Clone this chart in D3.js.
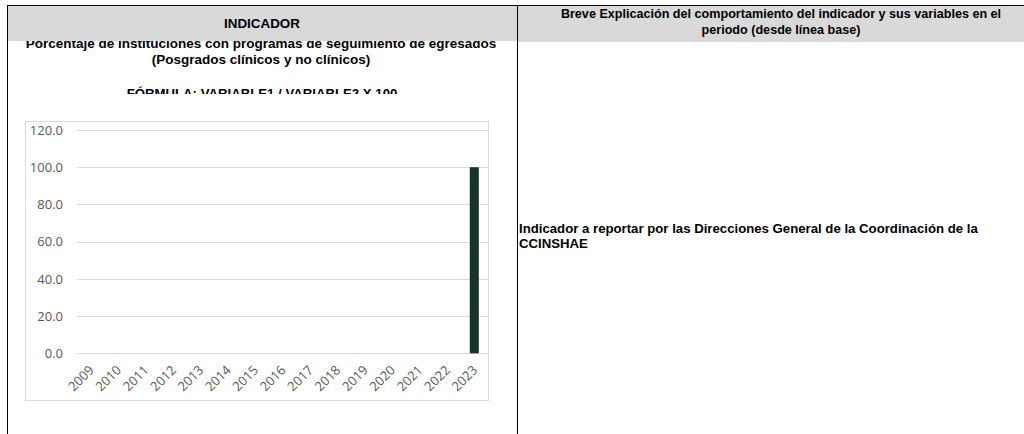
<!DOCTYPE html>
<html>
<head>
<meta charset="utf-8">
<script src="https://cdn.jsdelivr.net/npm/d3@7"></script>
<style>
  html, body { margin: 0; padding: 0; background: #fff; }
  svg { display: block; }
</style>
</head>
<body>
<svg id="chart" width="1024" height="434"></svg>
<script>
const years = ["2009","2010","2011","2012","2013","2014","2015","2016","2017","2018","2019","2020","2021","2022","2023"];
const values = [0,0,0,0,0,0,0,0,0,0,0,0,0,0,100];
const yTicks = [0,20,40,60,80,100,120];
const headerLeft = "INDICADOR";
const headerRight = ["Breve Explicación del comportamiento del indicador y sus variables en el", "periodo (desde línea base)"];
const titleLines = ["Porcentaje de instituciones con programas de seguimiento de egresados", "(Posgrados clínicos y no clínicos)"];
const formula = "FÓRMULA: VARIABLE1 / VARIABLE2 X 100";
const explanation = ["Indicador a reportar por las Direcciones General de la Coordinación de la", "CCINSHAE"];

const svg = d3.select("#chart");
const boldFont = "'Liberation Sans', Arial, sans-serif";
const axisFont = "'Open Sans', sans-serif";

const defs = svg.append("defs");
defs.append("clipPath").attr("id","formulaClip")
  .append("rect").attr("x",7).attr("y",40).attr("width",510).attr("height",54);

// Title texts (drawn under header so header clips their top)
const tg = svg.append("g").attr("font-family", boldFont).attr("font-weight","bold")
  .attr("font-size", 13.5).attr("fill","#000").attr("text-anchor","middle");
tg.selectAll("text.t").data(titleLines).join("text").attr("class","t")
  .attr("x", 261).attr("y", (d,i) => 47.5 + i*16).text(d => d);
tg.append("text").attr("x",262).attr("y",97.5).attr("font-size",13.2)
  .attr("clip-path","url(#formulaClip)").text(formula);

// Header backgrounds
svg.append("rect").attr("x",7).attr("y",5).attr("width",510).attr("height",36).attr("fill","#d9d9d9");
svg.append("rect").attr("x",517).attr("y",5).attr("width",507).attr("height",37).attr("fill","#d9d9d9");

const hg = svg.append("g").attr("font-family", boldFont).attr("font-weight","bold")
  .attr("fill","#000").attr("text-anchor","middle");
hg.append("text").attr("x",262).attr("y",27.5).attr("font-size",13.4).text(headerLeft);
hg.selectAll("text.r").data(headerRight).join("text").attr("class","r")
  .attr("font-size",12.6)
  .attr("x",781).attr("y",(d,i) => 17.5 + i*16).text(d => d);

// Explanation text
svg.append("g").attr("font-family", boldFont).attr("font-weight","bold")
  .attr("font-size", 13.2).attr("fill","#000")
  .selectAll("text").data(explanation).join("text")
  .attr("x",519).attr("y",(d,i) => 232.5 + i*15).text(d => d);

// Borders
svg.append("line").attr("x1",7.5).attr("x2",7.5).attr("y1",5).attr("y2",434).attr("stroke","#000");
svg.append("line").attr("x1",517.5).attr("x2",517.5).attr("y1",5).attr("y2",434).attr("stroke","#000");
svg.append("line").attr("x1",7).attr("x2",1024).attr("y1",5.5).attr("y2",5.5).attr("stroke","#000");

// Chart box
svg.append("rect").attr("x",25.5).attr("y",121.5).attr("width",463).attr("height",279)
  .attr("fill","#fff").attr("stroke","#d9d9d9");

const x = d3.scaleBand().domain(years).range([77, 488]).paddingInner(0.67).paddingOuter(0.335);
const y = d3.scaleLinear().domain([0,120]).range([353.3, 130]);

// Gridlines
svg.append("g").selectAll("line").data(yTicks).join("line")
  .attr("x1",77).attr("x2",488)
  .attr("y1", d => Math.round(y(d)) + 0.5).attr("y2", d => Math.round(y(d)) + 0.5)
  .attr("stroke","#d9d9d9").attr("stroke-width",1);

// Y axis labels
const yAxis = d3.axisLeft(y).tickValues(yTicks).tickFormat(d3.format(".1f")).tickSize(0).tickPadding(0);
const yg = svg.append("g").attr("transform","translate(63,0)").call(yAxis);
yg.select(".domain").remove();
yg.selectAll("text").attr("font-family",axisFont).attr("font-size",13).attr("fill","#595959");

// Bars
svg.append("g").selectAll("rect").data(years.map((d,i)=>({year:d, v:values[i]}))).join("rect")
  .attr("x", d => x(d.year)).attr("width", x.bandwidth())
  .attr("y", d => y(d.v)).attr("height", d => y(0) - y(d.v))
  .attr("fill","#17342c");

// X axis labels
const xAxis = d3.axisBottom(x).tickSize(0).tickPadding(0);
const xg = svg.append("g").call(xAxis);
xg.select(".domain").remove();
xg.selectAll(".tick").attr("transform", d => `translate(${x(d) + x.bandwidth()/2},0)`);
xg.selectAll("text")
  .attr("font-family",axisFont).attr("font-size",13).attr("fill","#595959")
  .attr("text-anchor","end").attr("dy",null).attr("y",null)
  .attr("transform","translate(4,371) rotate(-45)");
</script>
</body>
</html>
